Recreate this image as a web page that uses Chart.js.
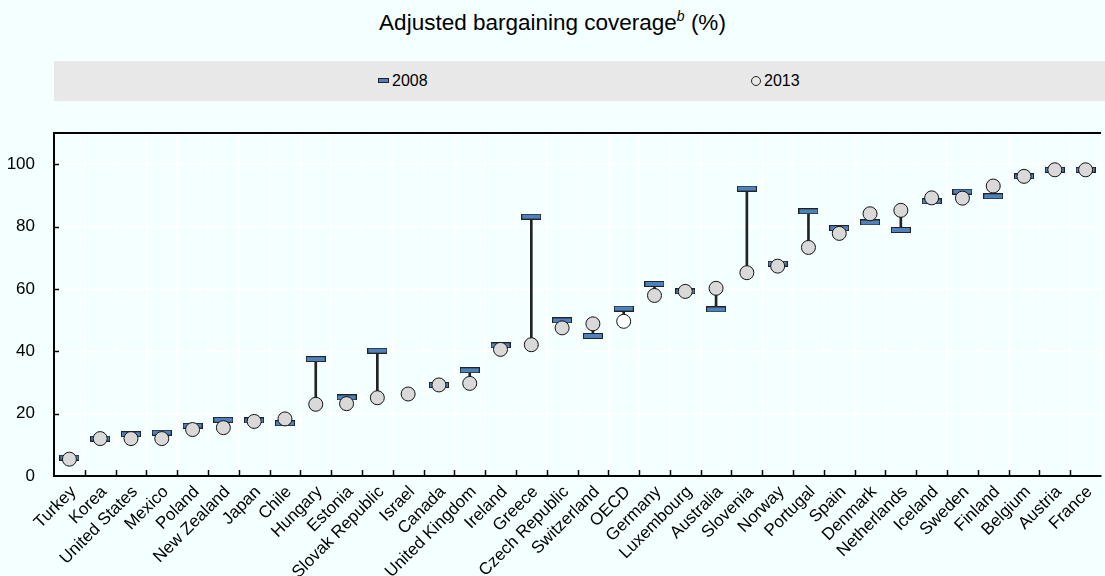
<!DOCTYPE html>
<html>
<head>
<meta charset="utf-8">
<script src="https://cdn.jsdelivr.net/npm/chart.js@4/dist/chart.umd.min.js"></script>
<style>
  html, body { margin:0; padding:0; background:#f4ffff; overflow:hidden; width:1105px; height:576px; }
  #wrap { position:relative; width:1105px; height:576px; }
  #title { position:absolute; left:0; top:10px; width:1105px; text-align:center;
    font-family:"Liberation Sans", Arial, sans-serif; font-size:22.5px; color:#000; }
  #title sup { font-style:italic; font-size:14px; vertical-align:top; position:relative; top:-2px; }
  #legend { position:absolute; left:54px; top:61px; width:1051px; height:40px; background:#e8e8e8;
    font-family:"Liberation Sans",Arial,sans-serif; font-size:16px; color:#000; }
  .li { position:absolute; top:10px; line-height:20px; white-space:nowrap; }
  .ic-rect { display:inline-block; width:9px; height:3px; background:#4f81bd; border:1px solid #222; vertical-align:middle; margin-right:3px; position:relative; top:-1px;}
  .ic-circ { display:inline-block; width:8px; height:8px; border-radius:50%; background:#e8e8e8; border:1px solid #222; vertical-align:middle; margin-right:3px; position:relative; top:-1px;}
  canvas { position:absolute; left:0; top:0; }
</style>
</head>
<body>
<div id="wrap">
  <div id="title">Adjusted bargaining coverage<sup>b</sup> (%)</div>
  <div id="legend">
    <div class="li" style="left:324px"><span class="ic-rect"></span>2008</div>
    <div class="li" style="left:697px"><span class="ic-circ"></span>2013</div>
  </div>
  <canvas id="c" width="1110" height="576" style="width:1110px;height:576px"></canvas>
</div>
<script>
const categories = ["Turkey","Korea","United States","Mexico","Poland","New Zealand","Japan","Chile","Hungary","Estonia","Slovak Republic","Israel","Canada","United Kingdom","Ireland","Greece","Czech Republic","Switzerland","OECD","Germany","Luxembourg","Australia","Slovenia","Norway","Portugal","Spain","Denmark","Netherlands","Iceland","Sweden","Finland","Belgium","Austria","France"];
const values2008 = [5.9,12.0,13.4,13.9,16.1,18.0,17.8,16.9,37.5,25.2,40.2,null,29.2,33.9,41.9,83.2,49.9,44.9,53.7,61.6,59.2,53.4,92.2,68.1,84.9,79.5,81.3,78.9,88.1,91.2,89.7,96.1,98.2,98.2];
const values2013 = [5.4,12.0,12.0,12.0,14.9,15.5,17.5,18.3,23.0,23.2,25.1,26.3,29.2,29.7,40.6,42.1,47.5,48.8,49.6,57.9,59.2,60.2,65.2,67.3,73.3,77.8,84.1,85.2,89.2,89.1,93.0,96.1,98.2,98.2];
const yTicks = [0,20,40,60,80,100];
const seriesNames = ["2008","2013"];
const highlight = "OECD";

const FONT = '"Liberation Sans", Arial, sans-serif';

// marker image for 2008 (horizontal dash)
const dash = document.createElement('canvas');
dash.width = 20; dash.height = 6;
(function(){
  const g = dash.getContext('2d');
  g.fillStyle = '#222'; g.fillRect(0,0,20,6);
  g.fillStyle = '#4f81bd'; g.fillRect(1,1,18,4);
})();

const connector = categories.map((c,i)=> values2008[i]==null ? null : [values2008[i], values2013[i]]);

const framePlugin = {
  id:'frame',
  afterDraw(chart){
    const {ctx, chartArea:a, scales:{x,y}} = chart;
    ctx.save();
    ctx.strokeStyle = '#000';
    ctx.lineWidth = 2;
    ctx.beginPath(); ctx.moveTo(a.left-1, a.top); ctx.lineTo(a.right, a.top); ctx.stroke();
    ctx.lineWidth = 1.5;
    for (let i=1;i<categories.length;i++){
      const px = Math.round((x.getPixelForValue(i-1)+x.getPixelForValue(i))/2)+0.5;
      ctx.beginPath(); ctx.moveTo(px, a.bottom); ctx.lineTo(px, a.bottom-6); ctx.stroke();
    }
    for (const v of yTicks){
      if (v===0) continue;
      const py = Math.round(y.getPixelForValue(v))+0.5;
      ctx.beginPath(); ctx.moveTo(a.left, py); ctx.lineTo(a.left+5, py); ctx.stroke();
    }
    ctx.restore();
  }
};

new Chart(document.getElementById('c'), {
  type:'bar',
  data:{
    labels: categories,
    datasets:[
      { type:'bar', label:'link', data: connector, backgroundColor:'#222', borderWidth:0,
        barThickness:2, grouped:false, order:3 },
      { type:'line', label: seriesNames[0], data: values2008, showLine:false,
        pointStyle: dash, pointRadius:8, order:2 },
      { type:'line', label: seriesNames[1], data: values2013, showLine:false,
        pointStyle:'circle', pointRadius:7,
        pointBackgroundColor: categories.map(c=> c===highlight ? '#ffffff' : '#d9d9d9'),
        pointBorderColor:'#111', pointBorderWidth:1, order:1 }
    ]
  },
  options:{
    responsive:false, animation:false, events:[],
    layout:{ padding:{ top:133, left:0, right:2.5, bottom:0 } },
    plugins:{ legend:{display:false}, title:{display:false}, tooltip:{enabled:false} },
    scales:{
      x:{
        type:'category', offset:true,
        grid:{ color:'#ffffff', lineWidth:1.5, offset:true, drawTicks:false },
        border:{ display:true, color:'#000', width:2 },
        ticks:{ color:'#000', font:{family:FONT, size:17}, minRotation:45, maxRotation:45, autoSkip:false, padding:6, labelOffset:4 },
        afterFit(s){ s.height = 100; }
      },
      y:{
        min:0, max:110,
        grid:{ color:'#ffffff', lineWidth:1.5, drawTicks:false },
        border:{ display:true, color:'#000', width:2 },
        ticks:{ color:'#000', font:{family:FONT, size:17}, stepSize:20, includeBounds:false, padding:19 },
        afterBuildTicks(s){ s.ticks = yTicks.map(v=>({value:v})); },
        afterFit(s){ s.width = 54; }
      }
    }
  },
  plugins:[framePlugin]
});
</script>
</body>
</html>
